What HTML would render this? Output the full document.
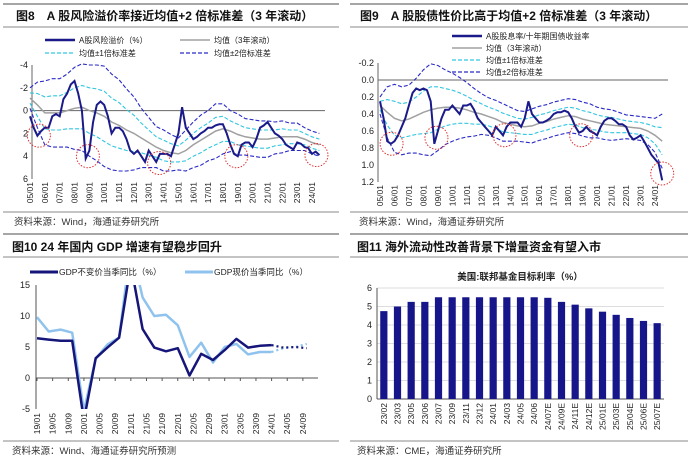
<!DOCTYPE html>
<html><head><meta charset="utf-8"><style>
body{margin:0;background:#fff;}
svg{display:block;font-family:"Liberation Sans","Noto Sans CJK SC",sans-serif;}
</style></head><body>
<svg id="s" width="691" height="459" viewBox="0 0 691 459" xmlns="http://www.w3.org/2000/svg">
<g stroke="#888" fill="none">
<line x1="3" y1="4" x2="339" y2="4" stroke-width="1.5"/><line x1="3" y1="27" x2="339" y2="27"/>
<line x1="350" y1="4" x2="688" y2="4" stroke-width="1.5"/><line x1="350" y1="27" x2="688" y2="27"/>
<line x1="3" y1="212" x2="339" y2="212"/><line x1="350" y1="212" x2="688" y2="212"/>
<line x1="3" y1="234" x2="339" y2="234" stroke-width="1.5"/><line x1="3" y1="257" x2="339" y2="257"/>
<line x1="350" y1="234" x2="688" y2="234" stroke-width="1.5"/><line x1="350" y1="257" x2="688" y2="257"/>
<line x1="3" y1="441" x2="339" y2="441"/><line x1="350" y1="441" x2="688" y2="441"/>
</g>
<g font-weight="bold" font-size="12" fill="#111">
<text x="16" y="20">图8　A 股风险溢价率接近均值+2 倍标准差（3 年滚动）</text>
<text x="360" y="20">图9　A 股股债性价比高于均值+2 倍标准差（3 年滚动）</text>
<text x="12" y="251">图10 24 年国内 GDP 增速有望稳步回升</text>
<text x="357" y="251">图11 海外流动性改善背景下增量资金有望入市</text>
</g>
<g font-size="9.5" fill="#333">
<text x="14" y="225">资料来源：Wind，海通证券研究所</text>
<text x="359" y="225">资料来源：Wind，海通证券研究所</text>
<text x="12" y="454">资料来源：Wind、海通证券研究所预测</text>
<text x="357" y="454">资料来源：CME，海通证券研究所</text>
</g>
<g id="c8"></g>
<g id="c9"></g>
<g id="c10"></g>
<g id="c11"></g>
</svg>
<script>
// Fig 8 data (quarterly from 2005/01)
const erpValues=[0.5,1.5,2.2,1.8,1.5,1.5,0.5,0.3,0.5,-1,-1.5,-2.3,-2.6,-1.5,0,4.2,3.5,1,-0.5,-0.8,-0.5,0.5,2,1.5,1.5,1.8,2.5,3.5,3.8,3.5,4.0,4.5,3.5,4.0,4.5,3.8,3.8,3.8,4.0,3.0,2.0,-0.3,1.5,2.0,2.5,2.3,2.0,1.8,1.5,1.5,1.3,1.2,1.2,2.0,3.0,3.8,4.0,3.0,2.8,2.8,3.2,2.5,1.5,1.3,1.0,1.5,2.0,2.2,2.5,3.0,3.2,3.4,2.8,2.9,3.2,3.3,3.8,3.6,3.9];
// half-yearly rolling mean and sd
const erpMean=[-1.1,-0.5,0.2,0.2,0.2,0,-0.2,-0.3,0,0.2,0.5,1,1.3,1.7,2.0,2.4,2.8,3.2,3.5,3.7,3.8,3.5,3.0,2.6,2.2,1.8,1.6,1.8,2.1,2.3,2.4,2.5,2.5,2.4,2.3,2.3,2.3,2.5,2.8,3.0];
const erpSd=[0.45,1.0,1.4,1.5,1.5,1.6,1.8,1.9,2.0,2.1,2.2,2.1,2.0,1.8,1.6,1.3,1.1,0.9,0.9,0.8,0.7,0.9,1.0,1.1,1.1,1.2,1.1,0.9,0.9,0.8,0.8,0.8,0.8,0.7,0.7,0.6,0.6,0.5,0.5,0.5];
const erpTicks=[-4,-2,0,2,4,6];
const erpCircles=[[2005.6,2.2],[2008.9,4.0],[2013.7,4.6],[2018.9,4.0],[2024.3,3.9]];
// Fig 9 data
const dbValues=[0.25,0.45,0.72,0.75,0.72,0.65,0.55,0.45,0.3,0.15,0.1,0.12,0.1,0.12,0.25,0.75,0.6,0.45,0.35,0.35,0.3,0.35,0.4,0.3,0.3,0.28,0.35,0.45,0.5,0.55,0.6,0.65,0.55,0.6,0.65,0.55,0.5,0.5,0.5,0.55,0.45,0.25,0.4,0.45,0.5,0.5,0.48,0.45,0.4,0.38,0.38,0.36,0.38,0.45,0.55,0.62,0.6,0.55,0.6,0.62,0.65,0.55,0.48,0.45,0.45,0.48,0.52,0.52,0.55,0.65,0.7,0.68,0.65,0.72,0.8,0.88,0.93,0.98,1.18];
const dbMean=[0.3,0.38,0.45,0.48,0.46,0.42,0.38,0.35,0.33,0.32,0.32,0.33,0.35,0.38,0.4,0.43,0.46,0.5,0.52,0.54,0.55,0.54,0.51,0.49,0.46,0.44,0.42,0.43,0.46,0.48,0.5,0.52,0.53,0.54,0.55,0.56,0.57,0.6,0.65,0.72];
const dbSd=[0.05,0.15,0.2,0.2,0.2,0.22,0.25,0.27,0.25,0.22,0.2,0.18,0.16,0.14,0.12,0.11,0.11,0.11,0.1,0.09,0.09,0.1,0.1,0.1,0.1,0.1,0.1,0.1,0.1,0.1,0.09,0.09,0.09,0.08,0.07,0.07,0.07,0.08,0.1,0.16];
const dbTicks=[-0.2,0,0.2,0.4,0.6,0.8,1.0,1.2];
const dbCircles=[[2005.8,0.75],[2008.9,0.68],[2013.6,0.65],[2018.9,0.65],[2024.5,1.1]];
const yearLabels=["05/01","06/01","07/01","08/01","09/01","10/01","11/01","12/01","13/01","14/01","15/01","16/01","17/01","18/01","19/01","20/01","21/01","22/01","23/01","24/01"];
// Fig 10 data (quarterly from 19/01)
const gdpReal=[6.4,6.2,6.0,6.0,-6.8,3.2,4.9,6.5,18.3,7.9,4.9,4.3,4.8,0.4,3.9,2.9,4.5,6.3,4.9,5.2,5.3];
const gdpRealFcst=[5.3,4.9,5.0,4.8];
const gdpNominal=[9.8,7.5,7.8,7.3,-5.3,3.1,5.4,6.5,21.2,13.0,10.0,10.2,8.5,3.4,5.7,2.5,5.0,5.5,3.8,4.2,4.2];
const gdpNominalFcst=[4.2,4.8,5.0,5.5];
const gdpTicks=[-5,0,5,10,15];
const gdpLabels=["19/01","19/05","19/09","20/01","20/05","20/09","21/01","21/05","21/09","22/01","22/05","22/09","23/01","23/05","23/09","24/01","24/05","24/09"];
// Fig 11 data
const fedCats=["23/02","23/03","23/05","23/06","23/07","23/09","23/11","23/12","24/01","24/03","24/05","24/06","24/07E","24/09E","24/11E","24/12E","25/01E","25/03E","25/04E","25/06E","25/07E"];
const fedValues=[4.75,5.0,5.25,5.25,5.5,5.5,5.5,5.5,5.5,5.5,5.5,5.5,5.47,5.25,5.1,4.9,4.72,4.55,4.38,4.22,4.1];
const fedTicks=[0,1,2,3,4,5,6];

const NS="http://www.w3.org/2000/svg";
function mk(p,t,a){const e=document.createElementNS(NS,t);for(const k in a)e.setAttribute(k,a[k]);p.appendChild(e);return e;}
function path(pts){return pts.map((p,i)=>(i?"L":"M")+p[0].toFixed(1)+" "+p[1].toFixed(1)).join("");}

function bandChart(g,o){
  const X=t=>o.x0+(t-2005)/(2024-2005)*(o.x1-o.x0);
  const Y=v=>o.y0+(v-o.vmin)/(o.vmax-o.vmin)*(o.y1-o.y0);
  const ax=mk(g,"line",{x1:o.ax,y1:o.y0,x2:o.ax,y2:o.y1,stroke:"#666"});
  
  
  const xl=mk(g,"line",{x1:o.ax,y1:Y(0),x2:o.xend,y2:Y(0),stroke:"#666"});
  
  
  o.ticks.forEach(v=>{
    const t=mk(g,"text",{x:o.ax-4,y:Y(v)+3,"text-anchor":"end","font-size":"9",fill:"#222"});
    t.textContent=o.fmt(v);
    
    
  });
  yearLabels.forEach((l,i)=>{
    const x=X(2005+i);
    const t=mk(g,"text",{transform:`translate(${x+3},${o.y1+3}) rotate(-90)`,"text-anchor":"end","font-size":"8.5",fill:"#222"});
    t.textContent=l;
    
    
  });
  const half=(arr,f)=>arr.map((m,i)=>[X(2005+i*0.5),Y(f(m,i))]);
  [[2,"#2a2ac8","4 2"],[-2,"#2a2ac8","4 2"],[1,"#33c6e0","4 2"],[-1,"#33c6e0","4 2"]].forEach(([k,c,d])=>{
    const p=mk(g,"path",{d:path(half(o.mean,(m,i)=>m+k*o.sd[i])),fill:"none",stroke:c,"stroke-width":"1.1","stroke-dasharray":d});
    
    
  });
  const m=mk(g,"path",{d:path(half(o.mean,m=>m)),fill:"none",stroke:"#a0a0a0","stroke-width":"1.5"});
  
  
  const s=mk(g,"path",{d:path(o.values.map((v,i)=>[X(2005+i*0.25),Y(v)])),fill:"none",stroke:"#1a1a8a","stroke-width":"2"});
  
  
  o.circles.forEach(c=>{
    const e=mk(g,"circle",{cx:X(c[0]),cy:Y(c[1]),r:11.5,fill:"none",stroke:"#e03030","stroke-width":"1","stroke-dasharray":"1.5 1.5"});
    
    
  });
  // legend
  o.legend.forEach(([lx,ly,label,col,dash,w])=>{
    const l=mk(g,"line",{x1:lx,y1:ly,x2:lx+30,y2:ly,stroke:col,"stroke-width":w,"stroke-dasharray":dash});
    
    
    const t=mk(g,"text",{x:lx+34,y:ly+3,"font-size":"8",fill:"#222"});
    t.textContent=label;
    
    
  });
}
bandChart(document.getElementById("c8"),{x0:30,x1:312,ax:32,xend:325,y0:65,y1:179,vmin:-4,vmax:6,ticks:erpTicks,fmt:v=>String(v),
  values:erpValues,mean:erpMean,sd:erpSd,circles:erpCircles,
  legend:[[45,40,"A股风险溢价（%）","#1a1a8a","none",2.5],[180,40,"均值（3年滚动）","#a0a0a0","none",1.5],[45,53,"均值±1倍标准差","#33c6e0","4 2",1.2],[180,53,"均值±2倍标准差","#2a2ac8","4 2",1.2]]});
bandChart(document.getElementById("c9"),{x0:380,x1:655,ax:378,xend:668,y0:63,y1:182,vmin:-0.2,vmax:1.2,ticks:dbTicks,fmt:v=>v.toFixed(1),
  values:dbValues,mean:dbMean,sd:dbSd,circles:dbCircles,
  legend:[[452,36,"A股股息率/十年期国债收益率","#1a1a8a","none",2.5],[452,48,"均值（3年滚动）","#a0a0a0","none",1.5],[452,60,"均值±1倍标准差","#33c6e0","4 2",1.2],[452,72,"均值±2倍标准差","#2a2ac8","4 2",1.2]]});

// Fig 10
(function(){
  const g=document.getElementById("c10");
  const X0=37,PM=3.91;
  const X=q=>X0+q*3*PM;
  const Y=v=>378-v*(31/5);
  const clip=mk(g,"clipPath",{id:"cp10"});mk(clip,"rect",{x:30,y:285,width:300,height:124});
  const ax=mk(g,"line",{x1:36,y1:285,x2:36,y2:409,stroke:"#555"});
  
  
  const xa=mk(g,"line",{x1:36,y1:378,x2:318,y2:378,stroke:"#555"});
  
  
  gdpTicks.forEach(v=>{
    const t=mk(g,"text",{x:30,y:Y(v)+3,"text-anchor":"end","font-size":"9",fill:"#222"});
    t.textContent=String(v);
    
    
  });
  gdpLabels.forEach((l,i)=>{
    const x=X0+i*4*PM;
    mk(g,"line",{x1:x,y1:378,x2:x,y2:381,stroke:"#555"});
    const t=mk(g,"text",{transform:`translate(${x+3},${413}) rotate(-90)`,"text-anchor":"end","font-size":"8.5",fill:"#222"});
    t.textContent=l;
    
    
  });
  const line=(vals,off,col,w,dash,name)=>{
    const p=mk(g,"path",{d:path(vals.map((v,i)=>[X(i+off),Y(v)])),fill:"none",stroke:col,"stroke-width":w,"stroke-dasharray":dash,"clip-path":"url(#cp10)","stroke-linejoin":"round"});
    
    
  };
  line(gdpNominal,0,"#8fc3ee",2.5,"none","gdp-nominal-line");
  line(gdpReal,0,"#15157a",2.5,"none","gdp-real-line");
  line(gdpNominalFcst,gdpNominal.length-1,"#8fc3ee",2.2,"2 3","gdp-nominal-forecast");
  line(gdpRealFcst,gdpReal.length-1,"#15157a",2.2,"2 3","gdp-real-forecast");
  [[30,272,"GDP不变价当季同比（%）","#15157a"],[185,272,"GDP现价当季同比（%）","#8fc3ee"]].forEach(([x,y,l,c])=>{
    const s=mk(g,"line",{x1:x,y1:y,x2:x+28,y2:y,stroke:c,"stroke-width":3});
    
    
    const t=mk(g,"text",{x:x+29,y:y+3,"font-size":"8.5",fill:"#222"});
    t.textContent=l;
    
    
  });
})();

// Fig 11
(function(){
  const g=document.getElementById("c11");
  const x0=377,x1=664,n=fedCats.length,bw=(x1-x0)/n;
  const Y=v=>399-v*18.5;
  const tt=mk(g,"text",{x:520,y:280,"text-anchor":"middle","font-size":"9.5","font-weight":"bold",fill:"#222"});
  tt.textContent="美国:联邦基金目标利率（%）";
  
  
  fedTicks.forEach(v=>{
    if(v>0){const gl=mk(g,"line",{x1:x0,y1:Y(v),x2:x1,y2:Y(v),stroke:"#ddd"});
    
    }
    const t=mk(g,"text",{x:x0-5,y:Y(v)+3,"text-anchor":"end","font-size":"9",fill:"#222"});
    t.textContent=String(v);
    
    
  });
  const ax=mk(g,"line",{x1:x0,y1:Y(6),x2:x0,y2:Y(0),stroke:"#555"});
  
  
  const xa=mk(g,"line",{x1:x0,y1:Y(0),x2:x1,y2:Y(0),stroke:"#555"});
  
  
  fedValues.forEach((v,i)=>{
    const cx=x0+bw*(i+0.5);
    const r=mk(g,"rect",{x:cx-3.6,y:Y(v),width:7.2,height:Y(0)-Y(v),fill:"#16168a"});
    
    
    const t=mk(g,"text",{transform:`translate(${cx+3},${Y(0)+4}) rotate(-90)`,"text-anchor":"end","font-size":"8.5",fill:"#222"});
    t.textContent=fedCats[i];
    
    
  });
})();
</script>
</body></html>
